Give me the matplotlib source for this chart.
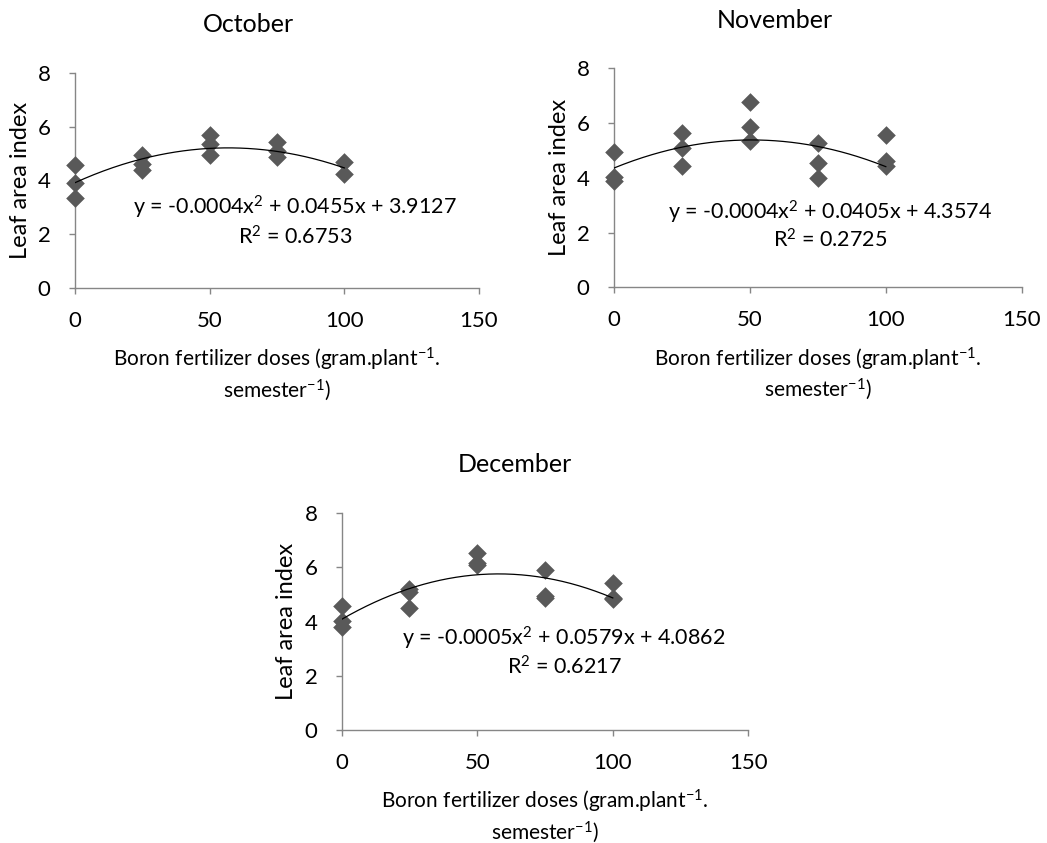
import numpy as np
import matplotlib
matplotlib.use('Agg')
import matplotlib.pyplot as plt

plt.rcParams['font.family'] = ['Lato', 'DejaVu Sans']
plt.rcParams['mathtext.default'] = 'regular'

# doses (gram.plant-1.semester-1), readings per dose
doses = [0, 0, 0, 25, 25, 25, 50, 50, 50, 75, 75, 75, 100, 100]
oct_lai = [4.58, 3.92, 3.35, 4.95, 4.6, 4.4, 5.68, 5.36, 4.96, 5.43, 5.1, 4.85, 4.67, 4.25]

doses_nov = [0, 0, 0, 25, 25, 25, 50, 50, 50, 75, 75, 75, 100, 100, 100]
nov_lai = [4.95, 4.03, 3.87, 5.64, 5.1, 4.43, 6.78, 5.84, 5.36, 5.27, 4.53, 3.98, 5.56, 4.61, 4.44]

doses_dec = [0, 0, 0, 25, 25, 25, 50, 50, 50, 75, 75, 75, 100, 100, 100]
dec_lai = [4.59, 4.02, 3.82, 5.2, 5.1, 4.52, 6.52, 6.15, 6.1, 5.9, 4.93, 4.88, 5.43, 4.87, 4.82]

# fitted quadratics (a, b, c) and R2 as printed on the chart
oct_fit = (-0.0004, 0.0455, 3.9127)
nov_fit = (-0.0004, 0.0405, 4.3574)
dec_fit = (-0.0005, 0.0579, 4.0862)
r2 = ['0.6753', '0.2725', '0.6217']

titles = ['October', 'November', 'December']
xticks = [0, 50, 100, 150]
yticks = [0, 2, 4, 6, 8]

W, H = 1047, 843
fig = plt.figure(figsize=(W / 100, H / 100), dpi=100)

# axes boxes in pixels: left, top, right, bottom
boxes = [(75, 72.7, 479, 288), (614, 68.3, 1021.7, 287.3), (341.7, 513.3, 748.3, 730)]
eq_pos = [(295, 207, 237), (830, 212, 240), (564, 638, 667)]
title_pos = [(248, 24), (775, 20), (515, 465)]

panels = [(doses, oct_lai, oct_fit), (doses_nov, nov_lai, nov_fit), (doses_dec, dec_lai, dec_fit)]

grey = '#868686'
for i, (x, y, fit) in enumerate(panels):
    l, t, r, b = boxes[i]
    ax = fig.add_axes([l / W, 1 - b / H, (r - l) / W, (b - t) / H])
    ax.scatter(x, y, marker='D', s=90, color='#595959', zorder=3, linewidths=0, clip_on=False)
    xs = np.linspace(0, 100, 200)
    a, bb, c = fit
    ax.plot(xs, a * xs ** 2 + bb * xs + c, color='black', lw=0.9, zorder=4)
    ax.set_xlim(0, 150)
    ax.set_ylim(0, 8)
    ax.set_xticks(xticks)
    ax.set_yticks(yticks)
    ax.spines['top'].set_visible(False)
    ax.spines['right'].set_visible(False)
    for s in ['left', 'bottom']:
        ax.spines[s].set_color(grey)
        ax.spines[s].set_linewidth(1.0)
    ax.tick_params(axis='both', direction='out', length=4.5, width=1.0, color=grey,
                   labelsize=16, labelcolor='black')
    ax.tick_params(axis='x', pad=12)
    ax.tick_params(axis='y', pad=13)
    ax.set_ylabel('Leaf area index', fontsize=17, labelpad=5)
    ax.set_xlabel('Boron fertilizer doses (gram.plant$^{-1}$.\nsemester$^{-1}$)',
                  fontsize=15, labelpad=11, linespacing=1.2)
    tx, ty = title_pos[i]
    fig.text(tx / W, 1 - ty / H, titles[i], ha='center', va='center', fontsize=18)
    ex, ey1, ey2 = eq_pos[i]
    eq = 'y = %.4fx$^{2}$ + %.4fx + %.4f' % (a, bb, c)
    fig.text(ex / W, 1 - ey1 / H, eq, ha='center', va='center', fontsize=15.5)
    fig.text(ex / W, 1 - ey2 / H, 'R$^{2}$ = ' + r2[i], ha='center', va='center', fontsize=15.5)

fig.savefig('out.png', dpi=100, facecolor='white')
